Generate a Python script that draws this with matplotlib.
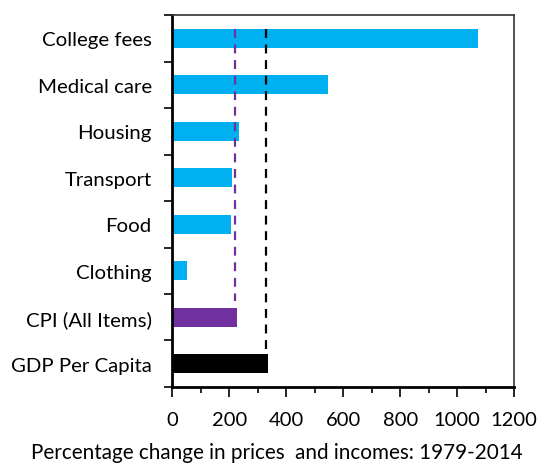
import numpy as np
import matplotlib
matplotlib.use('Agg')
import matplotlib.pyplot as plt
from matplotlib.ticker import MultipleLocator

plt.rcParams['font.family'] = ['Lato', 'DejaVu Sans']

categories = ['College fees', 'Medical care', 'Housing', 'Transport', 'Food',
              'Clothing', 'CPI (All Items)', 'GDP Per Capita']
values = [1074, 545, 233, 208, 205, 50, 227, 335]
colors = ['#00B0F0'] * 6 + ['#7030A0', '#000000']
cpi_line = 220
gdp_line = 330

fig = plt.figure(figsize=(5.4, 4.64), dpi=100)
ax = fig.add_axes([0.3194, 0.1638, 0.952 - 0.3194, 0.9655 - 0.1638])

y = np.arange(len(categories))
ax.barh(y, values, height=0.41, color=colors)
# reference lines for CPI and GDP growth
ax.vlines(cpi_line, -0.2, 5.65, colors='#7030A0', linestyles=(0, (4, 3)), lw=1.6)
ax.vlines(gdp_line, -0.2, 6.8, colors='black', linestyles=(0, (4, 3)), lw=1.6)

ax.set_ylim(len(categories) - 0.5, -0.5)
ax.set_xlim(0, 1200)
ax.xaxis.set_major_locator(MultipleLocator(200))
ax.xaxis.set_minor_locator(MultipleLocator(100))
ax.set_yticks(np.arange(-0.5, len(categories)), minor=False)
ax.set_yticklabels([])
ax.set_yticks(y, minor=True)
ax.set_yticklabels(categories, minor=True, fontsize=14.7)
ax.tick_params(axis='y', which='minor', length=0, pad=15)
ax.tick_params(axis='y', which='major', length=6, width=1.2, direction='out')
ax.tick_params(axis='x', which='major', length=7, width=1.2, labelsize=14.5, pad=10)
ax.tick_params(axis='x', which='minor', length=4, width=1.2)

for s in ['left', 'bottom']:
    ax.spines[s].set_linewidth(2)
for s in ['top', 'right']:
    ax.spines[s].set_linewidth(1.2)
    ax.spines[s].set_color('#333333')

fig.text(0.513, 0.003, 'Percentage change in prices  and incomes: 1979-2014',
         fontsize=14.9, ha='center', va='bottom')

plt.savefig('out.png', dpi=100)
plt.close()
